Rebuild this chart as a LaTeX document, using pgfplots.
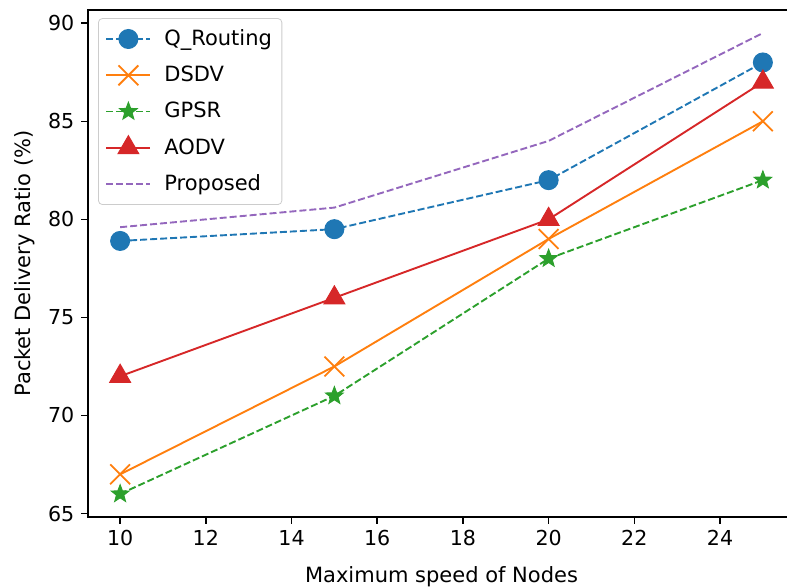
\documentclass[border=0pt]{standalone}
\usepackage{pgfplots}
\pgfplotsset{compat=1.18}
\usepackage{fontspec}
\setmainfont{DejaVu Sans}
\definecolor{c0}{HTML}{1F77B4}
\definecolor{c1}{HTML}{FF7F0E}
\definecolor{c2}{HTML}{2CA02C}
\definecolor{c3}{HTML}{D62728}
\definecolor{c4}{HTML}{9467BD}
\pgfdeclareplotmark{fstar}{%
  \pgfpathmoveto{\pgfpointpolar{90}{\pgfplotmarksize}}%
  \pgfpathlineto{\pgfpointpolar{126}{0.42\pgfplotmarksize}}%
  \pgfpathlineto{\pgfpointpolar{162}{\pgfplotmarksize}}%
  \pgfpathlineto{\pgfpointpolar{198}{0.42\pgfplotmarksize}}%
  \pgfpathlineto{\pgfpointpolar{234}{\pgfplotmarksize}}%
  \pgfpathlineto{\pgfpointpolar{270}{0.42\pgfplotmarksize}}%
  \pgfpathlineto{\pgfpointpolar{306}{\pgfplotmarksize}}%
  \pgfpathlineto{\pgfpointpolar{342}{0.42\pgfplotmarksize}}%
  \pgfpathlineto{\pgfpointpolar{18}{\pgfplotmarksize}}%
  \pgfpathlineto{\pgfpointpolar{54}{0.42\pgfplotmarksize}}%
  \pgfpathclose
  \pgfusepathqfillstroke
}
\begin{document}
\begin{tikzpicture}
\path[use as bounding box] (-44pt,-35pt) rectangle (349.5pt,258.5pt);
\begin{axis}[
  at={(0,0)}, anchor=south west,
  scale only axis, width=353.5pt, height=253.5pt,
  xmin=9.25, xmax=25.75, ymin=64.825, ymax=90.675,
  xtick={10,12,...,24}, ytick={65,70,...,90},
  tick align=outside, tick pos=left,
  major tick length=3.3pt,
  every tick/.style={black, line width=0.75pt},
  axis line style={line width=0.75pt},
  tick label style={font=\fontsize{10.3}{12}\selectfont},
  /pgf/number format/assume math mode=true,
  label style={font=\fontsize{10.5}{12}\selectfont},
  xlabel={Maximum speed of Nodes},
  xlabel style={yshift=-3.5pt},
  ylabel={Packet Delivery Ratio (\%)},
  legend cell align=left,
  legend style={at={(rel axis cs:0.0142,0.984)}, anchor=north west,
    draw=black!20, rounded corners=2pt, fill=white,
    font=\fontsize{10.5}{12}\selectfont, row sep=5.8pt, column sep=5pt,
    inner xsep=3.5pt, inner ysep=4pt,
    nodes={inner sep=1.5pt}},
  legend image code/.code={\draw[mark repeat=2,mark phase=2] plot coordinates {(0pt,0pt)(11pt,0pt)(22pt,0pt)};},
  every axis plot/.append style={line width=0.95pt},
]
\addplot[c0, dash pattern=on 3.5pt off 1.5pt, mark=*, mark size=4.75pt, mark options={solid, fill=c0, draw=c0, line width=0.5pt}]
  coordinates {(10,78.9) (15,79.5) (20,82) (25,88)};
\addlegendentry{Q\_Routing}
\addplot[c1, mark=x, mark size=7pt, mark options={solid, line width=0.9pt}]
  coordinates {(10,67) (15,72.5) (20,79) (25,85)};
\addlegendentry{DSDV}
\addplot[c2, dash pattern=on 3.5pt off 1.5pt, mark=fstar, mark size=4.6pt, mark options={solid, fill=c2, draw=c2, line width=0.5pt}]
  coordinates {(10,66) (15,71) (20,78) (25,82)};
\addlegendentry{GPSR}
\addplot[c3, mark=triangle*, mark size=6pt, mark options={solid, fill=c3, draw=c3, line width=0.5pt}]
  coordinates {(10,72) (15,76) (20,80) (25,87)};
\addlegendentry{AODV}
\addplot[c4, dash pattern=on 3.5pt off 1.5pt]
  coordinates {(10,79.6) (15,80.6) (20,84) (25,89.5)};
\addlegendentry{Proposed}
\end{axis}
\end{tikzpicture}
\end{document}
